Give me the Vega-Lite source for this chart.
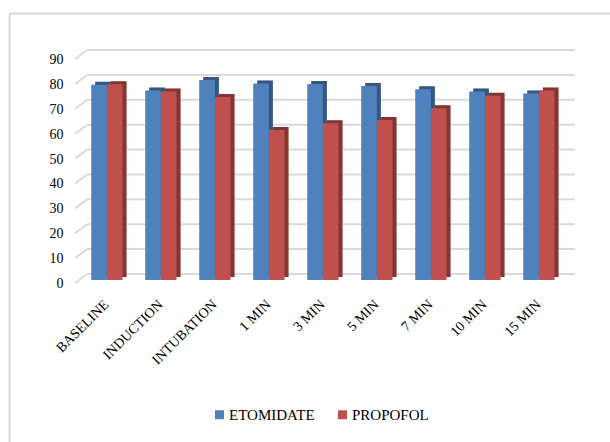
{
  "$schema": "https://vega.github.io/schema/vega-lite/v6.json",
  "width": 601,
  "height": 429,
  "autosize": {"type": "none"},
  "padding": {"left": 9, "top": 13, "right": 0, "bottom": 0},
  "background": "white",
  "config": {
    "view": {"stroke": null},
    "font": "Liberation Serif",
    "axis": {"labelFont": "Liberation Serif"},
    "legend": {"labelFont": "Liberation Serif"}
  },
  "datasets": {
    "hr": [
      {"stage": "BASELINE", "drug": "ETOMIDATE", "value": 78.5},
      {"stage": "BASELINE", "drug": "PROPOFOL", "value": 78.7},
      {"stage": "INDUCTION", "drug": "ETOMIDATE", "value": 76.2},
      {"stage": "INDUCTION", "drug": "PROPOFOL", "value": 75.8},
      {"stage": "INTUBATION", "drug": "ETOMIDATE", "value": 80.4},
      {"stage": "INTUBATION", "drug": "PROPOFOL", "value": 73.5},
      {"stage": "1 MIN", "drug": "ETOMIDATE", "value": 79.0},
      {"stage": "1 MIN", "drug": "PROPOFOL", "value": 60.3},
      {"stage": "3 MIN", "drug": "ETOMIDATE", "value": 78.8},
      {"stage": "3 MIN", "drug": "PROPOFOL", "value": 63.0},
      {"stage": "5 MIN", "drug": "ETOMIDATE", "value": 78.0},
      {"stage": "5 MIN", "drug": "PROPOFOL", "value": 64.3},
      {"stage": "7 MIN", "drug": "ETOMIDATE", "value": 76.7},
      {"stage": "7 MIN", "drug": "PROPOFOL", "value": 69.0},
      {"stage": "10 MIN", "drug": "ETOMIDATE", "value": 75.8},
      {"stage": "10 MIN", "drug": "PROPOFOL", "value": 74.0},
      {"stage": "15 MIN", "drug": "ETOMIDATE", "value": 75.0},
      {"stage": "15 MIN", "drug": "PROPOFOL", "value": 76.2}
    ],
    "grid": [
      {"v": 0}, {"v": 10}, {"v": 20}, {"v": 30}, {"v": 40},
      {"v": 50}, {"v": 60}, {"v": 70}, {"v": 80}, {"v": 90}
    ]
  },
  "resolve": {"scale": {"xOffset": "independent"}},
  "layer": [
    {
      "description": "back wall gridlines; the blank categories at each end only reserve space",
      "data": {"name": "grid"},
      "mark": {"type": "rule", "color": "#dadada", "strokeWidth": 2, "xOffset": -4, "x2Offset": 38, "yOffset": -6, "y2Offset": -6},
      "encoding": {
        "x": {
          "datum": "BASELINE",
          "type": "nominal",
          "bandPosition": 0,
          "scale": {
            "domain": ["", "BASELINE", "INDUCTION", "INTUBATION", "1 MIN", "3 MIN", "5 MIN", "7 MIN", "10 MIN", "15 MIN", " "],
            "paddingInner": 0.5, "paddingOuter": 0.315, "align": 0.83
          }
        },
        "x2": {"datum": "15 MIN"},
        "y": {"field": "v", "type": "quantitative"}
      }
    },
    {
      "description": "floor-to-wall diagonals at each gridline",
      "data": {"name": "grid"},
      "mark": {"type": "rule", "color": "#dadada", "strokeWidth": 2, "xOffset": -16, "x2Offset": -17.7, "yOffset": 3, "y2Offset": -6},
      "encoding": {
        "x": {"datum": "BASELINE", "type": "nominal", "bandPosition": 0},
        "x2": {"datum": "BASELINE"},
        "y": {"field": "v", "type": "quantitative"},
        "y2": {"field": "v"}
      }
    },
    {
      "description": "bar depth (side and top faces), base colour",
      "data": {"name": "hr"},
      "mark": {"type": "bar", "yOffset": -3, "y2Offset": -3},
      "encoding": {
        "x": {"field": "stage", "type": "nominal"},
        "xOffset": {"field": "drug", "type": "nominal", "scale": {"paddingInner": 0, "range": [4, 35.3]}},
        "y": {"field": "value", "type": "quantitative"},
        "color": {"field": "drug", "type": "nominal"}
      }
    },
    {
      "description": "shade over the depth faces",
      "data": {"name": "hr"},
      "mark": {"type": "bar", "yOffset": -3, "y2Offset": -3, "color": "#000000", "opacity": 0.32},
      "encoding": {
        "x": {"field": "stage", "type": "nominal"},
        "xOffset": {"field": "drug", "type": "nominal", "scale": {"paddingInner": 0, "range": [4, 35.3]}},
        "y": {"field": "value", "type": "quantitative"}
      }
    },
    {
      "description": "bar front faces",
      "data": {"name": "hr"},
      "mark": {"type": "bar"},
      "encoding": {
        "x": {
          "field": "stage",
          "type": "nominal",
          "axis": {
            "orient": "top",
            "title": null,
            "domain": true,
            "domainColor": "#d9d9d9",
            "domainWidth": 2,
            "ticks": false,
            "tickSize": 0,
            "labelPadding": -289,
            "labelAngle": -45,
            "labelAlign": "right",
            "labelBaseline": "middle",
            "labelOffset": 2,
            "labelFont": "Liberation Serif",
            "labelFontSize": 14,
            "labelColor": "#000000"
          }
        },
        "xOffset": {"field": "drug", "type": "nominal", "scale": {"paddingInner": 0, "range": [0, 31.3]}},
        "y": {
          "field": "value",
          "type": "quantitative",
          "scale": {"domain": [-65.1, 107.3], "nice": false, "zero": false},
          "axis": {
            "orient": "left",
            "title": null,
            "values": [0, 10, 20, 30, 40, 50, 60, 70, 80, 90],
            "domain": true,
            "domainColor": "#d9d9d9",
            "domainWidth": 2,
            "ticks": false,
            "tickSize": 0,
            "grid": false,
            "labelPadding": -54,
            "labelAlign": "right",
            "labelOffset": 3.5,
            "labelFont": "Liberation Serif",
            "labelFontSize": 14,
            "labelColor": "#000000"
          }
        },
        "color": {
          "field": "drug",
          "type": "nominal",
          "scale": {"domain": ["ETOMIDATE", "PROPOFOL"], "range": ["#4f81bd", "#c0504d"]},
          "legend": {
            "orient": "none",
            "legendX": 203,
            "legendY": 394,
            "direction": "horizontal",
            "title": null,
            "padding": 0,
            "symbolType": "square",
            "symbolSize": 81,
            "symbolStrokeWidth": 0,
            "labelFont": "Liberation Serif",
            "labelFontSize": 15,
            "labelColor": "#000000",
            "labelOffset": 2,
            "columnPadding": 20
          }
        }
      }
    }
  ]
}
